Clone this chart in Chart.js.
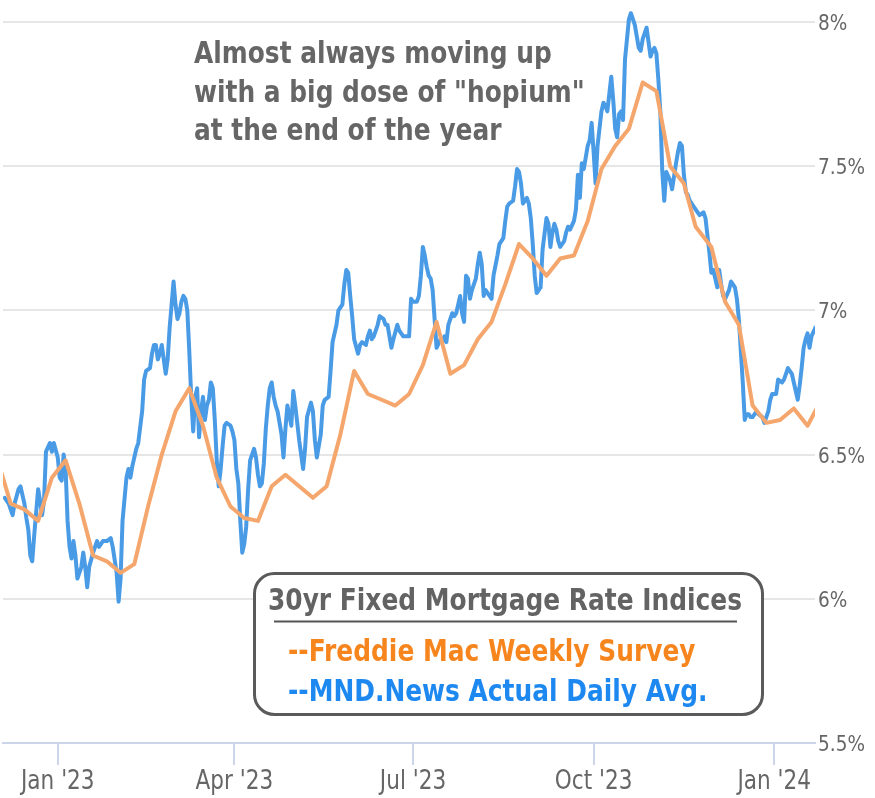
<!DOCTYPE html>
<html>
<head>
<meta charset="utf-8">
<script src="https://cdn.jsdelivr.net/npm/chart.js@4.4.1/dist/chart.umd.min.js"></script>
<style>
html,body{margin:0;padding:0;background:#ffffff;}
#wrap{width:875px;height:798px;position:relative;}
</style>
</head>
<body>
<div id="wrap"><canvas id="c" width="875" height="798"></canvas></div>
<script>
// x values are days since 2023-01-01
const tickDays = [0, 90, 181, 273, 365];
const tickLabels = ["Jan '23", "Apr '23", "Jul '23", "Oct '23", "Jan '24"];
const yTicks = [5.5, 6, 6.5, 7, 7.5, 8];
const yLabels = ["5.5%", "6%", "6.5%", "7%", "7.5%", "8%"];

// Freddie Mac weekly survey (Thursdays)
const freddieDays = [-31,-24,-17,-10,-3,4,11,18,25,32,39,46,53,60,67,74,81,88,95,102,109,116,123,130,137,144,151,158,165,172,179,186,193,200,207,214,221,228,235,242,249,256,263,270,277,284,291,298,305,312,319,325,333,340,347,354,361,368,375,382,389];
const freddieRates = [6.49,6.33,6.31,6.27,6.42,6.48,6.33,6.15,6.13,6.09,6.12,6.32,6.50,6.65,6.73,6.60,6.42,6.32,6.28,6.27,6.39,6.43,6.39,6.35,6.39,6.57,6.79,6.71,6.69,6.67,6.71,6.81,6.96,6.78,6.81,6.90,6.96,7.09,7.23,7.18,7.12,7.18,7.19,7.31,7.49,7.57,7.63,7.79,7.76,7.50,7.44,7.29,7.22,7.03,6.95,6.67,6.61,6.62,6.66,6.60,6.69];

// MND daily index
const mndDays = [-27,-25,-23,-22,-20,-19,-17,-16,-15,-14,-13,-12,-10,-9,-8,-7,-6,-4,-3,-2,
0,1,2,3,4,5,6,7,8,9,10,12,13,14,15,16,18,20,21,23,25,27,28,30,31,32,33,35,36,37,38,40,41,43,44,45,47,48,49,50,
51,52,53,54,55,56,57,58,59,60,61,62,63,64,65,66,67,68,69,70,71,72,73,74,75,76,77,78,79,80,
81,82,83,84,85,86,88,89,90,91,92,93,94,95,96,97,98,100,101,102,103,104,105,106,107,108,109,110,111,112,
114,115,116,117,119,120,121,123,125,126,127,129,130,131,132,134,135,136,138,139,140,142,143,145,146,147,148,149,150,151,
153,154,155,157,158,159,160,161,163,164,166,167,168,169,170,171,173,174,175,176,178,179,180,181,183,184,185,186,187,188,
189,190,191,192,193,195,196,197,198,199,201,202,203,204,205,206,207,208,209,210,211,213,214,215,216,217,218,219,220,221,
222,224,225,227,228,229,230,232,233,234,235,236,237,238,239,240,241,242,243,244,245,246,247,249,250,251,252,253,254,255,
256,258,259,260,261,263,264,265,266,267,268,270,271,272,273,274,275,277,278,279,280,281,282,283,284,285,286,287,288,289,
290,291,292,294,295,296,297,298,300,301,302,303,304,305,306,307,308,309,310,312,313,315,316,317,318,319,320,321,322,324,
326,327,329,330,331,332,333,334,336,337,338,339,340,342,343,344,345,346,347,348,349,350,351,352,353,354,356,357,359,360,
362,363,364,366,367,369,370,371,372,374,375,377,378,379,380,381,382,383,384,386,387];
const mndRates = [6.35,6.33,6.29,6.33,6.38,6.39,6.33,6.28,6.24,6.15,6.13,6.22,6.38,6.34,6.29,6.34,6.51,6.54,6.51,6.54,
6.49,6.42,6.41,6.50,6.45,6.27,6.18,6.14,6.20,6.15,6.07,6.11,6.16,6.11,6.04,6.11,6.16,6.20,6.18,6.20,6.20,6.21,6.18,6.09,5.99,6.07,6.27,6.42,6.45,6.42,6.46,6.52,6.54,6.65,6.76,6.79,6.80,6.85,6.88,6.88,
6.83,6.85,6.88,6.83,6.78,6.83,6.94,7.02,7.10,7.02,6.97,6.99,7.03,7.05,7.04,7.00,6.86,6.70,6.58,6.70,6.73,6.56,6.65,6.70,6.62,6.67,6.69,6.75,6.73,6.62,
6.48,6.39,6.45,6.53,6.60,6.61,6.60,6.58,6.55,6.45,6.40,6.27,6.16,6.19,6.25,6.38,6.48,6.52,6.49,6.43,6.39,6.40,6.47,6.59,6.67,6.73,6.75,6.70,6.67,6.65,
6.57,6.49,6.59,6.67,6.60,6.72,6.67,6.55,6.45,6.52,6.63,6.68,6.65,6.55,6.49,6.57,6.67,6.69,6.70,6.79,6.89,6.95,7.00,7.02,7.09,7.14,7.13,7.05,6.98,6.90,
6.85,6.88,6.89,6.88,6.91,6.93,6.90,6.91,6.95,6.98,6.97,6.95,6.95,6.91,6.87,6.90,6.95,6.93,6.92,6.91,6.91,6.91,7.04,7.03,7.03,7.05,7.12,7.22,7.19,7.15,
7.12,7.11,7.07,6.97,6.87,6.90,6.89,6.91,6.89,6.95,6.99,6.98,6.99,7.02,7.05,6.99,6.96,7.12,7.11,7.04,7.07,7.11,7.16,7.20,7.16,7.05,7.07,7.06,7.05,7.04,
7.12,7.19,7.23,7.25,7.31,7.36,7.37,7.38,7.43,7.49,7.48,7.44,7.37,7.38,7.39,7.37,7.32,7.23,7.12,7.06,7.07,7.08,7.21,7.32,7.30,7.22,7.27,7.30,7.28,7.24,
7.22,7.24,7.27,7.29,7.28,7.31,7.35,7.47,7.39,7.51,7.49,7.57,7.59,7.65,7.55,7.44,7.57,7.69,7.72,7.71,7.69,7.75,7.81,7.73,7.63,7.60,7.68,7.69,7.66,7.87,
7.94,8.01,8.03,7.99,7.95,7.91,7.90,7.94,7.98,7.93,7.88,7.90,7.91,7.89,7.80,7.69,7.48,7.38,7.48,7.45,7.42,7.51,7.55,7.58,7.57,7.47,7.41,7.40,7.38,7.36,
7.34,7.33,7.34,7.32,7.26,7.20,7.13,7.14,7.08,7.14,7.09,7.05,7.04,7.07,7.10,7.09,7.08,7.04,6.97,6.86,6.75,6.62,6.64,6.64,6.63,6.63,6.65,6.64,6.63,6.61,
6.65,6.69,6.71,6.71,6.76,6.75,6.76,6.78,6.80,6.78,6.75,6.69,6.74,6.80,6.87,6.90,6.92,6.87,6.91,6.94,7.08];

const annotationLines = ["Almost always moving up", "with a big dose of \"hopium\"", "at the end of the year"];
const legendTitle = "30yr Fixed Mortgage Rate Indices";
const seriesNames = ["--Freddie Mac Weekly Survey", "--MND.News Actual Daily Avg."];

const BLUE = '#4A9BE6', ORANGE = '#F5A66C';

function squashText(ctx, text, x, y, font, color, sx, align) {
  ctx.save();
  ctx.font = font;
  ctx.fillStyle = color;
  ctx.textAlign = align || 'left';
  ctx.textBaseline = 'alphabetic';
  ctx.translate(x, y);
  ctx.scale(sx, 1);
  ctx.fillText(text, 0, 0);
  ctx.restore();
}

const textPlugin = {
  id: 'texts',
  afterDraw(chart) {
    const ctx = chart.ctx;
    const xs = chart.scales.x, ys = chart.scales.y, ca = chart.chartArea;
    // y-axis labels
    ys.ticks.forEach(t => {
      const i = yTicks.indexOf(t.value);
      if (i < 0) return;
      squashText(ctx, yLabels[i], ca.right + 3, ys.getPixelForValue(t.value) + 8,
        '22px "DejaVu Sans"', '#666666', 0.84, 'left');
    });
    // x-axis labels
    xs.ticks.forEach(t => {
      const i = tickDays.indexOf(t.value);
      if (i < 0) return;
      squashText(ctx, tickLabels[i], xs.getPixelForValue(t.value), ca.bottom + 46,
        '27px "DejaVu Sans"', '#666666', 0.8, 'center');
    });
    // annotation
    const bold = 'bold 31px "DejaVu Sans"';
    const SX = 0.803;
    const base = [63, 102, 140];
    annotationLines.forEach((l, i) => squashText(ctx, l, 194, base[i], bold, '#666666', SX, 'left'));
    // legend box
    ctx.save();
    ctx.beginPath();
    ctx.roundRect(254.5, 573.5, 508, 141, 20);
    ctx.fillStyle = '#ffffff';
    ctx.fill();
    ctx.lineWidth = 3;
    ctx.strokeStyle = '#5a5a5a';
    ctx.stroke();
    ctx.beginPath();
    ctx.moveTo(274, 621.5);
    ctx.lineTo(737, 621.5);
    ctx.lineWidth = 2;
    ctx.strokeStyle = '#555555';
    ctx.stroke();
    ctx.restore();
    squashText(ctx, legendTitle, 268, 610, bold, '#636363', SX, 'left');
    squashText(ctx, seriesNames[0], 288, 661, bold, '#F7851E', SX, 'left');
    squashText(ctx, seriesNames[1], 288, 701, bold, '#1D88F0', SX, 'left');
  }
};

new Chart(document.getElementById('c'), {
  type: 'line',
  data: {
    datasets: [
      {
        label: 'Freddie Mac Weekly Survey',
        data: freddieDays.map((d, i) => ({ x: d, y: freddieRates[i] })),
        borderColor: ORANGE,
        borderWidth: 4,
        pointRadius: 0,
        tension: 0,
        borderJoinStyle: 'round',
        borderCapStyle: 'round',
        fill: false
      },
      {
        label: 'MND.News Actual Daily Avg.',
        data: mndDays.map((d, i) => ({ x: d, y: mndRates[i] })),
        borderColor: BLUE,
        borderWidth: 4,
        pointRadius: 0,
        tension: 0,
        borderJoinStyle: 'round',
        borderCapStyle: 'round',
        fill: false
      }
    ]
  },
  options: {
    responsive: false,
    animation: false,
    devicePixelRatio: 1,
    layout: { padding: { left: 3, right: 0, top: 0, bottom: 0 } },
    plugins: { legend: { display: false }, tooltip: { enabled: false } },
    events: [],
    scales: {
      x: {
        type: 'linear',
        position: 'bottom',
        min: -27.9,
        max: 385.8,
        afterBuildTicks: s => { s.ticks = tickDays.map(v => ({ value: v })); },
        afterFit: s => { s.height = 55; },
        ticks: { display: false },
        grid: { drawOnChartArea: false, drawTicks: true, tickLength: 22, color: '#ccd6eb', lineWidth: 2 },
        border: { display: true, color: '#ccd6eb', width: 2 }
      },
      y: {
        type: 'linear',
        position: 'right',
        min: 5.5,
        max: 8.076,
        afterBuildTicks: s => { s.ticks = yTicks.map(v => ({ value: v })); },
        afterFit: s => { s.width = 60; },
        ticks: { display: false },
        grid: {
          drawTicks: false,
          lineWidth: 2,
          color: c => (c.tick && c.tick.value === 5.5) ? 'rgba(0,0,0,0)' : '#e6e6e6'
        },
        border: { display: false }
      }
    }
  },
  plugins: [textPlugin]
});
</script>
</body>
</html>
